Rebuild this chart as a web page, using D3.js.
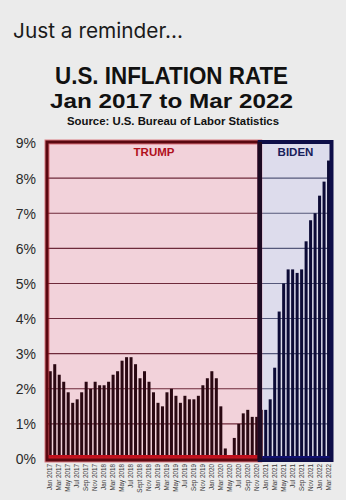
<!DOCTYPE html>
<html>
<head>
<meta charset="utf-8">
<script src="https://cdn.jsdelivr.net/npm/d3@7"></script>
<style>
  html, body { margin: 0; padding: 0; background: #ebebeb; }
  svg { display: block; }
</style>
</head>
<body>
<div id="chart"></div>
<script>
// ---- Data ----
const trumpMonths = [
  "Jan 2017","Feb 2017","Mar 2017","Apr 2017","May 2017","Jun 2017","Jul 2017","Aug 2017","Sep 2017","Oct 2017","Nov 2017","Dec 2017",
  "Jan 2018","Feb 2018","Mar 2018","Apr 2018","May 2018","Jun 2018","Jul 2018","Aug 2018","Sept 2018","Oct 2018","Nov 2018","Dec 2018",
  "Jan 2019","Feb 2019","Mar 2019","Apr 2019","May 2019","Jun 2019","Jul 2019","Aug 2019","Sep 2019","Oct 2019","Nov 2019","Dec 2019",
  "Jan 2020","Feb 2020","Mar 2020","Apr 2020","May 2020","Jun 2020","Jul 2020","Aug 2020","Sep 2020","Oct 2020","Nov 2020","Dec 2020"
];
const trumpValues = [
  2.5,2.7,2.4,2.2,1.9,1.6,1.7,1.9,2.2,2.0,2.2,2.1,
  2.1,2.2,2.4,2.5,2.8,2.9,2.9,2.7,2.3,2.5,2.2,1.9,
  1.6,1.5,1.9,2.0,1.8,1.6,1.8,1.7,1.7,1.8,2.1,2.3,
  2.5,2.3,1.5,0.3,0.1,0.6,1.0,1.3,1.4,1.2,1.2,1.4
];
const bidenMonths = [
  "Jan 2021","Feb 2021","Mar 2021","Apr 2021","May 2021","Jun 2021","Jul 2021","Aug 2021","Sep 2021","Oct 2021","Nov 2021","Dec 2021",
  "Jan 2022","Feb 2022","Mar 2022"
];
const bidenValues = [1.4,1.7,2.6,4.2,5.0,5.4,5.4,5.3,5.4,6.2,6.8,7.0,7.5,7.9,8.5];
const yTicks = [0,1,2,3,4,5,6,7,8,9];
const xTickLabels = [
  "Jan 2017","Mar 2017","May 2017","Jul 2017","Sep 2017","Nov 2017",
  "Jan 2018","Mar 2018","May 2018","Jul 2018","Sept 2018","Nov 2018",
  "Jan 2019","Mar 2019","May 2019","Jul 2019","Sep 2019","Nov 2019",
  "Jan 2020","Mar 2020","May 2020","Jul 2020","Sep 2020","Nov 2020",
  "Jan 2021","Mar 2021","May 2021","Jul 2021","Sep 2021","Nov 2021",
  "Jan 2022","Mar 2022"
];
const titleLines = ["U.S. INFLATION RATE", "Jan 2017 to Mar 2022"];

// ---- Build ----
const W = 346, H = 500;
const svg = d3.select("#chart").append("svg").attr("width", W).attr("height", H);
svg.append("rect").attr("width", W).attr("height", H).attr("fill", "#ebebeb");

const allMonths = trumpMonths.concat(bidenMonths);
const rows = trumpMonths.map((m, i) => ({m, v: trumpValues[i], who: "T"}))
  .concat(bidenMonths.map((m, i) => ({m, v: bidenValues[i], who: "B"})));

const x = d3.scaleBand().domain(allMonths).range([48.3, 330.5]).paddingInner(0.33).paddingOuter(0.1);
const y = d3.scaleLinear().domain([0, 9]).range([459, 143]);

const pLeft = 47, pTop = y(9) - 1, pBottom = 460, pRight = 331.5;
const divX = x("Dec 2020") + x.bandwidth() / 2 - 1.5;

// Titles
svg.append("text").attr("x", 13).attr("y", 38)
  .attr("font-family", "Inter, 'Open Sans', sans-serif").attr("font-size", 20.5)
  .attr("textLength", 170).attr("lengthAdjust", "spacingAndGlyphs")
  .attr("fill", "#1a1a1a").text("Just a reminder...");

svg.append("text").attr("x", 171.5).attr("y", 84).attr("text-anchor", "middle")
  .attr("font-family", "'Liberation Sans', Arial, sans-serif").attr("font-weight", 700)
  .attr("font-size", 23).attr("textLength", 233).attr("lengthAdjust", "spacingAndGlyphs")
  .attr("fill", "#111").text(titleLines[0]);
svg.append("text").attr("x", 171.5).attr("y", 107.5).attr("text-anchor", "middle")
  .attr("font-family", "'Liberation Sans', Arial, sans-serif").attr("font-weight", 700)
  .attr("font-size", 21).attr("textLength", 243).attr("lengthAdjust", "spacingAndGlyphs")
  .attr("fill", "#111").text(titleLines[1]);

svg.append("text").attr("x", 173).attr("y", 124.5).attr("text-anchor", "middle")
  .attr("font-family", "'Liberation Sans', Arial, sans-serif").attr("font-weight", 700)
  .attr("font-size", 10).attr("textLength", 212).attr("lengthAdjust", "spacingAndGlyphs")
  .attr("fill", "#111").text("Source: U.S. Bureau of Labor Statistics");

// Panels
svg.append("rect").attr("x", pLeft).attr("y", pTop).attr("width", divX - pLeft).attr("height", pBottom - pTop)
  .attr("fill", "#f2d2da");
svg.append("rect").attr("x", divX).attr("y", pTop).attr("width", pRight - divX).attr("height", pBottom - pTop)
  .attr("fill", "#dddcec");

// Gridlines
const grid = svg.append("g");
yTicks.filter(t => t > 0 && t < 9).forEach(t => {
  grid.append("line").attr("x1", pLeft).attr("x2", divX).attr("y1", y(t)).attr("y2", y(t))
    .attr("stroke", "#6e2a3a").attr("stroke-width", 1.1);
  grid.append("line").attr("x1", divX).attr("x2", pRight).attr("y1", y(t)).attr("y2", y(t))
    .attr("stroke", "#55587a").attr("stroke-width", 1.1);
});

// Bars
svg.append("g").selectAll("rect").data(rows).join("rect")
  .attr("x", d => x(d.m))
  .attr("width", x.bandwidth())
  .attr("y", d => y(d.v))
  .attr("height", d => y(0) - y(d.v))
  .attr("fill", d => d.who === "T" ? "#2a0812" : "#0c0b36");

// Base bands
svg.append("rect").attr("x", pLeft).attr("y", 455).attr("width", divX - pLeft).attr("height", 6).attr("fill", "#c0101c");
svg.append("rect").attr("x", divX).attr("y", 456).attr("width", pRight - divX).attr("height", 5).attr("fill", "#101070");

// Frames
svg.append("rect").attr("x", pLeft).attr("y", pTop).attr("width", divX - pLeft).attr("height", pBottom - pTop)
  .attr("fill", "none").attr("stroke", "#d0202c").attr("stroke-width", 5).attr("opacity", 0.55);
svg.append("rect").attr("x", pLeft).attr("y", pTop).attr("width", divX - pLeft).attr("height", pBottom - pTop)
  .attr("fill", "none").attr("stroke", "#5a0810").attr("stroke-width", 3);
svg.append("rect").attr("x", divX).attr("y", pTop).attr("width", pRight - divX).attr("height", pBottom - pTop)
  .attr("fill", "none").attr("stroke", "#0e0e48").attr("stroke-width", 4);
svg.append("line").attr("x1", divX).attr("x2", divX).attr("y1", pTop).attr("y2", pBottom)
  .attr("stroke", "#1c0a22").attr("stroke-width", 4.5);

// Panel labels
svg.append("text").attr("x", 154).attr("y", 156).attr("text-anchor", "middle")
  .attr("font-family", "'Liberation Sans', Arial, sans-serif").attr("font-weight", 700)
  .attr("font-size", 11.5).attr("fill", "#b0101c").text("TRUMP");
svg.append("text").attr("x", 295.5).attr("y", 156).attr("text-anchor", "middle")
  .attr("font-family", "'Liberation Sans', Arial, sans-serif").attr("font-weight", 700)
  .attr("font-size", 11.5).attr("fill", "#18205a").text("BIDEN");

// Y axis labels
const yAxis = d3.axisLeft(y).tickValues(yTicks).tickSize(0).tickPadding(0).tickFormat(d => d + "%");
const yg = svg.append("g").attr("transform", "translate(36,0)").call(yAxis);
yg.select(".domain").remove();
yg.selectAll("text").attr("font-family", "'Liberation Sans', Arial, sans-serif")
  .attr("font-size", 14).attr("fill", "#2a2a2a").attr("dy", "0.35em");

// X axis labels
const xAxis = d3.axisBottom(x).tickValues(xTickLabels).tickSize(0);
const xg = svg.append("g").attr("transform", `translate(0,${pBottom + 2})`).call(xAxis);
xg.select(".domain").remove();
xg.selectAll("text")
  .attr("font-family", "'Liberation Sans', Arial, sans-serif").attr("font-size", 6.3)
  .attr("fill", "#3a3a3a")
  .attr("text-anchor", "end")
  .attr("transform", "rotate(-90)")
  .attr("x", -2).attr("y", 0).attr("dy", "0.35em");
</script>
</body>
</html>
